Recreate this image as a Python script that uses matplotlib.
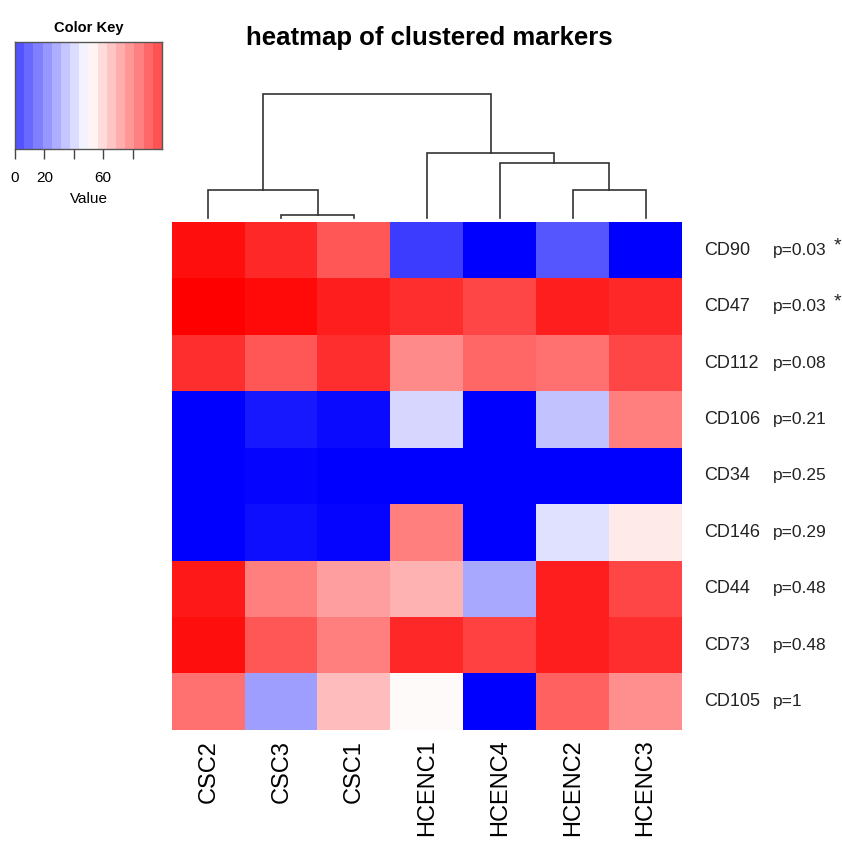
import numpy as np
import matplotlib
matplotlib.use("Agg")
import matplotlib.pyplot as plt
import matplotlib.transforms as mtransforms
from matplotlib.colors import LinearSegmentedColormap

plt.rcParams["font.family"] = ["Liberation Sans", "DejaVu Sans"]

# ---- data -------------------------------------------------------------
samples = ["CSC2", "CSC3", "CSC1", "HCENC1", "HCENC4", "HCENC2", "HCENC3"]
markers = ["CD90", "CD47", "CD112", "CD106", "CD34", "CD146", "CD44", "CD73", "CD105"]
p_text = ["p=0.03", "p=0.03", "p=0.08", "p=0.21", "p=0.25", "p=0.29", "p=0.48", "p=0.48", "p=1"]
stars = ["*", "*", "", "", "", "", "", "", ""]

values = np.array([
    [97, 92, 83, 12, 0, 17, 0],    # CD90
    [100, 98, 94, 91, 86, 94, 92],  # CD47
    [91, 83, 91, 73, 80, 78, 86],   # CD112
    [0, 5, 2, 42, 0, 38, 75],       # CD106
    [0, 1, 0, 0, 0, 0, 0],          # CD34
    [0, 3, 1, 75, 0, 44, 54],       # CD146
    [95, 75, 69, 65, 33, 94, 86],   # CD44
    [97, 83, 75, 92, 87, 94, 91],   # CD73
    [78, 31, 63, 51, 0, 81, 72],    # CD105
])

# column dendrogram: (left id, right id, height); ids < 7 are leaves,
# id 7 + k refers to the k-th merge below
col_merges = [(1, 2, 2.4), (0, 7, 22), (5, 6, 22), (4, 9, 44), (3, 10, 52), (8, 11, 100)]

key_ticks = [0, 20, 40, 60, 80]
key_ticklabels = ["0", "20", "", "60", ""]

# ---- figure -------------------------------------------------------------
W = H = 842
fig = plt.figure(figsize=(W / 100, H / 100), dpi=100)


def px_axes(x0, y0, x1, y1):
    """Axes from pixel box (top-left origin)."""
    return fig.add_axes([x0 / W, 1 - y1 / H, (x1 - x0) / W, (y1 - y0) / H])


cmap = LinearSegmentedColormap.from_list("bluered", ["#0000ff", "#ffffff", "#ff0000"], N=256)

# heatmap
hx0, hy0, hx1, hy1 = 172, 222, 682, 730
ax = px_axes(hx0, hy0, hx1, hy1)
ax.imshow(values, cmap=cmap, vmin=0, vmax=100, aspect="auto", interpolation="nearest")
for s in ax.spines.values():
    s.set_visible(False)
ax.set_yticks([])
ax.set_xticks(range(len(samples)))
ax.set_xticklabels(samples, rotation=90, fontsize=17, va="top", ha="center")
ax.tick_params(axis="x", length=0, pad=7)

trans = mtransforms.blended_transform_factory(ax.transAxes, ax.transData)
for i, m in enumerate(markers):
    ax.text(1.043, i, m, transform=trans, fontsize=13, va="center", ha="left", color="#222222")
    ax.text(1.178, i, p_text[i], transform=trans, fontsize=12.5, va="center", ha="left", color="#222222")
    if stars[i]:
        ax.text(1.298, i - 0.08, stars[i], transform=trans, fontsize=14, va="center", ha="left",
                color="#222222")

# column dendrogram
dax = px_axes(hx0, 93, hx1, hy0)
n = len(samples)
pos = {i: float(i) for i in range(n)}
hgt = {i: 0.0 for i in range(n)}
for k, (a, b, h) in enumerate(col_merges):
    xa, xb = pos[a], pos[b]
    dax.plot([xa, xa, xb, xb], [hgt[a], h, h, hgt[b]], color="#333333", lw=1.2,
             solid_joinstyle="miter")
    pos[n + k] = (xa + xb) / 2
    hgt[n + k] = h
dax.set_xlim(-0.5, n - 0.5)
dax.set_ylim(-3.6, 100.6)
dax.axis("off")

# colour key
kax = px_axes(15, 42, 162, 149)
grad = np.linspace(0, 100, 16)
kax.imshow(grad[np.newaxis, :], cmap=cmap, vmin=0, vmax=100, aspect="auto",
           interpolation="nearest", extent=[0, 100, 0, 1], alpha=0.68)
kax.set_xlim(0, 100)
kax.set_ylim(0, 1)
kax.set_yticks([])
kax.set_xticks(key_ticks)
kax.set_xticklabels(key_ticklabels, fontsize=11)
kax.tick_params(axis="x", direction="out", length=7, width=1, color="#444444", pad=9)
for s in kax.spines.values():
    s.set_color("#555555")
    s.set_linewidth(1)
kax.set_xlabel("Value", fontsize=11, labelpad=5)
kax.set_title("Color Key", fontsize=10.5, fontweight="bold", pad=7)

fig.text(429 / W, 1 - 38 / H, "heatmap of clustered markers", fontsize=18.5,
         fontweight="bold", ha="center", va="center")

fig.savefig("out.png", dpi=100, facecolor="white")
